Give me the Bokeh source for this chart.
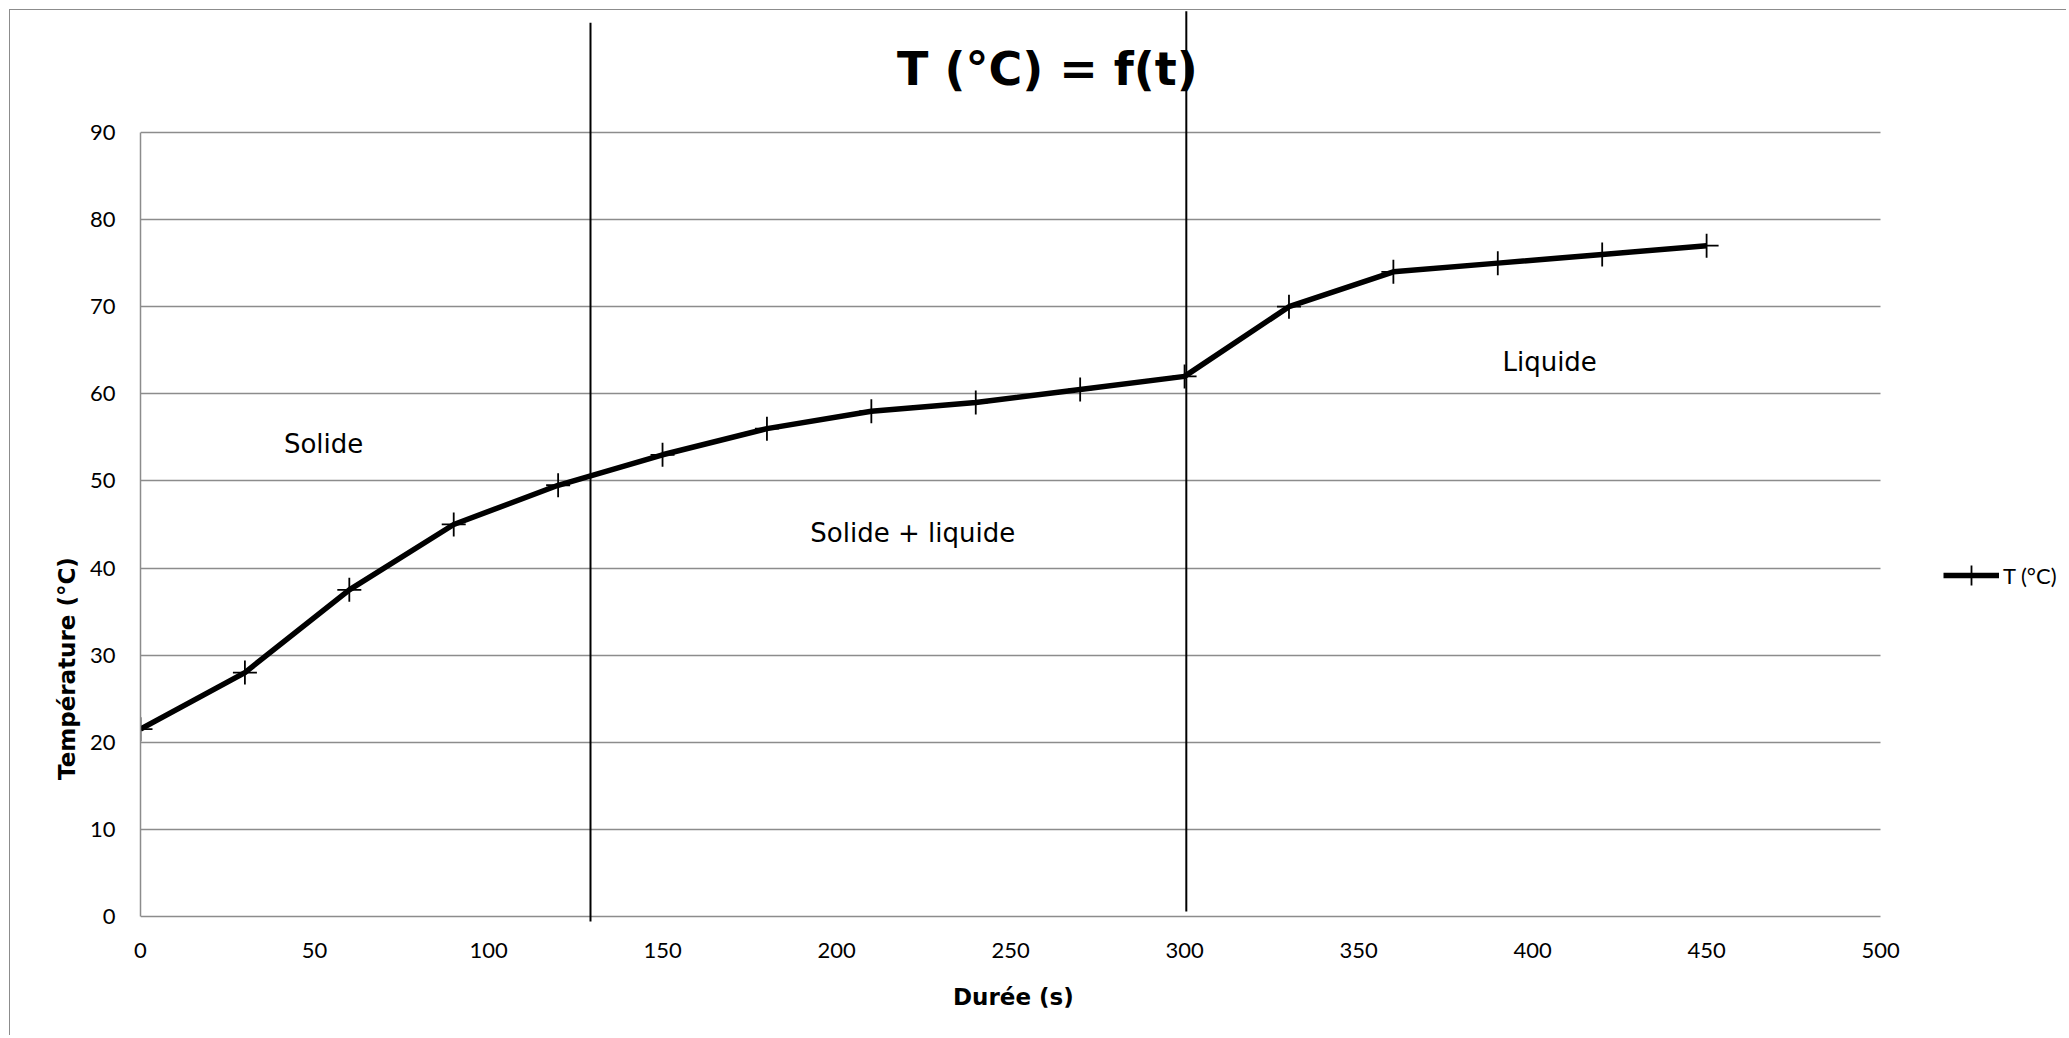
from bokeh.plotting import figure
from bokeh.models import (FixedTicker, Label, Legend, LegendItem, Range1d, Title)
from bokeh.core.properties import value
from bokeh.embed import file_html
from bokeh.resources import INLINE

# ---- data ----
time_s = [0, 30, 60, 90, 120, 150, 180, 210, 240, 270, 300, 330, 360, 390, 420, 450]
temp_c = [21.5, 28, 37.5, 45, 49.5, 53, 56, 58, 59, 60.5, 62, 70, 74, 75, 76, 77]

x_ticks = [0, 50, 100, 150, 200, 250, 300, 350, 400, 450, 500]
y_ticks = [0, 10, 20, 30, 40, 50, 60, 70, 80, 90]

phase_bounds = [129.3, 300.5]
phase_line_bottom = [-0.57, 0.57]
phase_line_top = [102.6, 103.9]

phase_names = ["Solide", "Solide + liquide", "Liquide"]
phase_label_x = [52.6, 221.9, 404.9]
phase_label_y = [54.2, 44.0, 63.7]

title_text = "T (°C) = f(t)"
x_title = "Durée (s)"
y_title = "Température (°C)"
series_name = "T (°C)"

GRID = "#8c8c8c"
TICK_FONT = "Lato"
HAND_FONT = "DejaVu Sans"

p = figure(width=2057, height=1026, output_backend="svg", toolbar_location=None,
           x_range=Range1d(0, 553.7), y_range=Range1d(-0.69, 104.0),
           min_border_left=130, min_border_right=0, min_border_top=0,
           min_border_bottom=114, title=None)
p.outline_line_color = None
p.background_fill_color = "white"
p.border_fill_color = "white"
p.styles = {"margin": "9px 0 0 9px",
            "border-top": "1px solid #8c8c8c", "border-left": "1px solid #8c8c8c"}

# horizontal grid, limited to the 0..500 s span
p.xgrid.visible = False
grid = p.ygrid[0]
grid.ticker = FixedTicker(ticks=y_ticks)
grid.grid_line_color = GRID
grid.grid_line_width = 1.5
if "cross_bounds" in grid.properties():
    grid.cross_bounds = (0, 500)
else:
    grid.visible = False
    p.segment(x0=0, x1=500, y0=y_ticks, y1=y_ticks, line_color=GRID,
              line_width=1.5, level="underlay")

# y axis
p.yaxis.ticker = FixedTicker(ticks=y_ticks)
p.yaxis.bounds = (0, 90)
p.yaxis.axis_line_color = GRID
p.yaxis.axis_line_width = 1.5
p.yaxis.major_tick_line_color = None
p.yaxis.minor_tick_line_color = None
p.yaxis.major_tick_out = 0
p.yaxis.major_label_standoff = 25
p.yaxis.major_label_text_font = TICK_FONT
p.yaxis.major_label_text_font_size = "22px"
p.yaxis.major_label_text_color = "black"

# x axis
p.xaxis.ticker = FixedTicker(ticks=x_ticks)
p.xaxis.bounds = (0, 500)
p.xaxis.axis_line_color = None
p.xaxis.major_tick_line_color = None
p.xaxis.minor_tick_line_color = None
p.xaxis.major_tick_out = 0
p.xaxis.major_label_standoff = 20
p.xaxis.major_label_text_font = TICK_FONT
p.xaxis.major_label_text_font_size = "22px"
p.xaxis.major_label_text_color = "black"

# axis titles (side-panel titles so they can sit off-centre like the reference)
p.add_layout(Title(text=x_title, align="left", offset=812.5, standoff=42,
                   text_font=HAND_FONT, text_font_style="bold",
                   text_font_size="23px", text_color="black"),
             "below")
p.add_layout(Title(text=y_title, align="left", offset=142.5, standoff=14,
                   text_font=HAND_FONT, text_font_style="bold",
                   text_font_size="23px", text_color="black"),
             "left")

# phase boundaries
p.segment(x0=phase_bounds, y0=phase_line_bottom, x1=phase_bounds, y1=phase_line_top,
          line_color="black", line_width=2)

# series
line_r = p.line(time_s, temp_c, line_color="black", line_width=5.5, line_join="round")
pts_r = p.scatter(time_s, temp_c, marker="cross", size=24, line_color="black", line_width=1.8)

# phase labels
p.text(x=phase_label_x, y=phase_label_y, text=phase_names,
       text_font=value(HAND_FONT), text_font_size="26px", text_color="black",
       text_align="center", text_baseline="alphabetic")

# chart title
p.add_layout(Label(x=260.6, y=97.3, text=title_text, text_align="center",
                   text_baseline="alphabetic", text_font=HAND_FONT,
                   text_font_style="bold", text_font_size="46px", text_color="black"))

legend = Legend(items=[LegendItem(label=series_name, renderers=[line_r, pts_r])],
                location=(1803, 322), glyph_width=56, glyph_height=50, label_standoff=4,
                padding=2, border_line_color=None, background_fill_alpha=0,
                label_text_font=TICK_FONT, label_text_font_size="22px",
                label_text_color="black")
p.add_layout(legend, "center")

open("out.html", "w").write(file_html(p, INLINE))
